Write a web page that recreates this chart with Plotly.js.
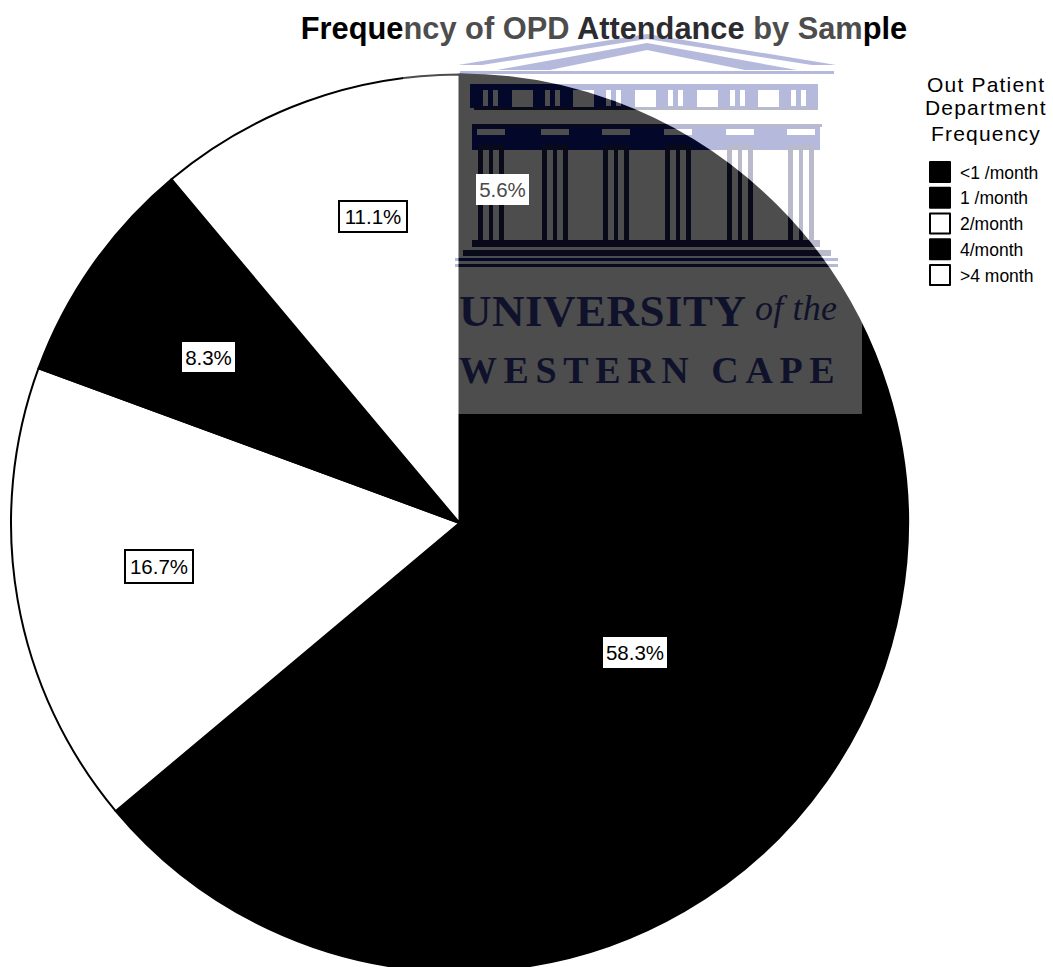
<!DOCTYPE html>
<html>
<head>
<meta charset="utf-8">
<script src="https://cdn.plot.ly/plotly-3.0.1.min.js"></script>
<style>
  html, body { margin: 0; padding: 0; background: #fff; overflow: hidden; }
  #frame { width: 1053px; height: 967px; overflow: hidden; }
</style>
</head>
<body>
<div id="frame"><div id="chart"></div></div>
<script>
// Attendance categories and their share of the sample, clockwise from 12 o'clock
const categories = ['<1 /month', '1 /month', '2/month', '4/month', '>4 month'];
const shares = [5.6, 58.3, 16.7, 8.3, 11.1];
const sliceColors = ['#000000', '#000000', '#ffffff', '#000000', '#ffffff'];
const legendHeading = ['Out Patient', 'Department', 'Frequency'];
const crestLines = ['UNIVERSITY', 'of the', 'WESTERN CAPE'];

// Page geometry
const W = 1053, H = 1000;
const px = x => x / W;
const py = y => 1 - y / H;
const cx = 459.5, cy = 523, R = 448.5;

// Value boxes: centre of each box and its size, in slice order
const boxCentres = [[502.5, 190], [635, 652.5], [159, 566], [208.5, 357], [373, 217]];
const boxSizes = [[53, 31], [64, 31], [70, 35], [53, 30], [70, 33]];
const boxBorder = [0, 0, 2, 0, 2];
const boxInk = ['#4a4a4a', '#000000', '#000000', '#000000', '#000000'];

// Crest artwork: columns, frieze and pediment, laid out in page coordinates
function crestSvg() {
  const ink = '#0c1a8a', deep = '#1a2358';
  const rect = (x, y, w, h, c) => `<rect x="${x}" y="${y}" width="${w}" height="${h}" fill="${c}"/>`;
  const tri = (pts, c) => `<polygon points="${pts}" fill="${c}"/>`;
  let s = '';
  // pediment: nested bands
  s += tri('458,65 647,34 836,65', ink);
  s += tri('482,65 647,39 812,65', '#fff');
  s += tri('497,70 647,43 797,70', ink);
  s += tri('545,71 647,50 750,71', '#fff');
  s += rect(460, 71, 374, 3, ink);
  // frieze with windows and triglyphs
  s += rect(470, 84, 348, 24, ink);
  [512, 573, 635, 697, 758].forEach(x => { s += rect(x, 90, 21, 17, '#fff'); });
  [483, 545, 606, 668, 730, 791].forEach(x => {
    s += rect(x, 90, 5, 16, '#fff');
    s += rect(x + 10, 90, 5, 16, '#fff');
  });
  // lintel and capitals
  s += rect(474, 107, 344, 3, deep);
  s += rect(472, 125, 348, 25, ink);
  s += rect(472, 124, 350, 3, deep);
  // columns
  [478, 542, 603, 665, 727, 788].forEach(x => {
    s += rect(x - 1, 129, 28, 6, '#fff');
    s += rect(x, 145, 26, 95, deep);
    s += rect(x + 5, 150, 6, 90, '#fff');
    s += rect(x + 15, 150, 6, 90, '#fff');
  });
  // stepped base
  s += rect(472, 240, 348, 7, deep);
  s += rect(463, 250, 368, 6, deep);
  s += rect(455, 258, 383, 3, ink);
  s += rect(455, 264, 383, 3, deep);
  const svg = `<svg xmlns="http://www.w3.org/2000/svg" width="459" height="414" viewBox="403 0 459 414">` +
    `<defs><filter id="soft"><feGaussianBlur stdDeviation="0.7"/></filter></defs>` +
    `<rect x="403" y="0" width="459" height="414" fill="#fff"/><g filter="url(#soft)">${s}</g></svg>`;
  return 'data:image/svg+xml;charset=utf-8,' + encodeURIComponent(svg);
}

// Value boxes
const valueNotes = shares.map((v, i) => ({
  xref: 'paper', yref: 'paper',
  x: px(boxCentres[i][0]), y: py(boxCentres[i][1]),
  xanchor: 'center', yanchor: 'middle',
  text: v.toFixed(1) + '%',
  showarrow: false,
  width: boxSizes[i][0] - 2 * boxBorder[i], height: boxSizes[i][1] - 2 * boxBorder[i],
  borderpad: 0, borderwidth: boxBorder[i],
  bordercolor: '#000000', bgcolor: '#ffffff',
  font: { family: 'Liberation Sans', size: 20.5, color: boxInk[i] }
}));

// Heading above the legend, one annotation per line for tight leading
const headingY = [85, 108, 133];
const headingNotes = legendHeading.map((t, i) => ({
  xref: 'paper', yref: 'paper', x: px(986), y: py(headingY[i]),
  xanchor: 'center', yanchor: 'middle', showarrow: false,
  text: `<span style="letter-spacing:1.2px">${t}</span>`,
  font: { family: 'Liberation Sans', size: 21, color: '#000000' }
}));

// Crest wordmark
const crestInk = '#10122c';
const crestNotes = [
  { x: 458, y: 311, text: `<b>${crestLines[0]}</b>`, size: 45, spacing: 0.5 },
  { x: 754, y: 308, text: `<i>${crestLines[1]}</i>`, size: 36, spacing: 0.2 },
  { x: 458, y: 370, text: `<b>${crestLines[2]}</b>`, size: 38, spacing: 6.6 }
].map(c => ({
  xref: 'paper', yref: 'paper', x: px(c.x), y: py(c.y),
  xanchor: 'left', yanchor: 'middle', showarrow: false, borderpad: 0,
  text: `<span style="letter-spacing:${c.spacing}px">${c.text}</span>`,
  font: { family: 'Liberation Serif', size: c.size, color: crestInk }
}));

// The translucent crest fades parts of the heading that run beneath it
const faded = '#4d4d4d', shaded = '#2c2c30';
const chartTitle =
  `Freque<span style="color:${faded}">ncy of OPD </span>` +
  `<span style="color:${shaded}">Attendance</span>` +
  `<span style="color:${faded}"> by Sam</span>ple`;

const data = [{
  type: 'pie',
  labels: categories,
  values: shares,
  sort: false,
  direction: 'clockwise',
  rotation: 0,
  textinfo: 'none',
  hoverinfo: 'skip',
  marker: { colors: sliceColors, line: { color: '#000000', width: 2 } },
  domain: { x: [px(cx - R), px(cx + R)], y: [py(cy + R), py(cy - R)] }
}];

const layout = {
  width: W, height: H,
  margin: { l: 0, r: 0, t: 0, b: 0 },
  paper_bgcolor: '#ffffff',
  title: {
    text: chartTitle,
    xref: 'paper', yref: 'paper', automargin: false,
    x: px(604), xanchor: 'center',
    y: py(28), yanchor: 'middle',
    font: { family: 'Liberation Sans', size: 30.8, weight: 700, color: '#000000' }
  },
  showlegend: true,
  legend: {
    x: px(920), xanchor: 'left',
    y: py(154), yanchor: 'top',
    bgcolor: 'rgba(0,0,0,0)', borderwidth: 0,
    traceorder: 'normal',
    font: { family: 'Liberation Sans', size: 17.5, color: '#000000' }
  },
  images: [{
    source: crestSvg(),
    xref: 'paper', yref: 'paper',
    x: px(403), y: 1, sizex: 459 / W, sizey: 414 / H,
    xanchor: 'left', yanchor: 'top',
    sizing: 'stretch', opacity: 0.3, layer: 'above'
  }],
  annotations: [...crestNotes, ...valueNotes, ...headingNotes]
};

Plotly.newPlot('chart', data, layout, { displayModeBar: false, responsive: false }).then(() => {
  // Larger legend swatches
  document.querySelectorAll('.legendpie').forEach(p => {
    p.setAttribute('d', 'M10,10V-10H-10V10Z');
    p.style.strokeLinejoin = 'round';
  });
});
</script>
</body>
</html>
